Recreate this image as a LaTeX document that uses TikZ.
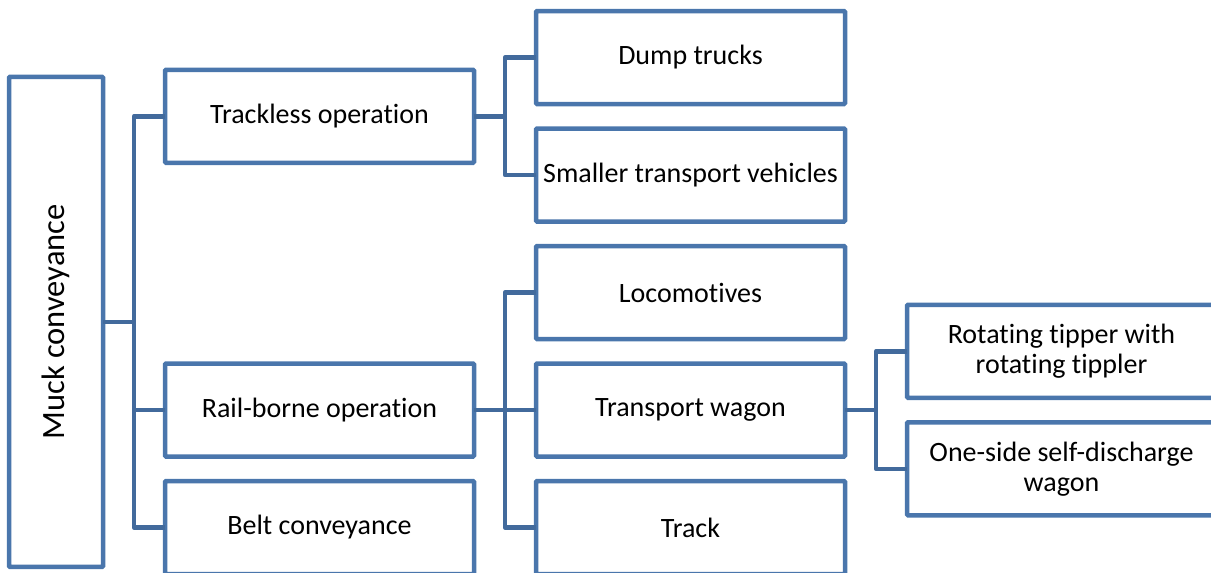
\documentclass[tikz,border=0pt]{standalone}
\usepackage{fontspec}
\setmainfont{Carlito}[RawFeature={-liga;-dlig}]
\usetikzlibrary{positioning, calc}
\definecolor{boxblue}{RGB}{74,118,172}
\definecolor{linkblue}{RGB}{66,106,156}

\begin{document}
\begin{tikzpicture}[
    node distance=24.5pt and 62pt,
    box/.style={rectangle, draw=boxblue, line width=4.5pt, fill=white, outer sep=0pt, align=center, font=\fontsize{28}{30}\selectfont, minimum width=309pt, minimum height=93pt, inner sep=2pt, rounded corners=1pt},
    link/.style={draw=linkblue, line width=4.5pt, line join=round}
]
\useasboundingbox (0,0) rectangle (1211pt,-573pt);
\clip (0,0) rectangle (1211pt,-573pt);

% second column, top to bottom
\node[box] (dump) at (690.5pt,-57.5pt) {Dump trucks};
\node[box, below=of dump] (smaller) {Smaller transport vehicles};
\node[box, below=of smaller] (loco) {Locomotives};
\node[box, below=of loco] (wagon) {Transport wagon};
\node[box, below=of wagon] (track) {Track};

% first column
\node[box, left=of {$(dump.west)!0.5!(smaller.west)$}] (trackless) {Trackless operation};
\node[box, left=of wagon] (rail) {Rail-borne operation};
\node[box, left=of track] (belt) {Belt conveyance};

% root
\node[box, minimum width=94pt, minimum height=490pt, font=\fontsize{32.5}{36}\selectfont,
      left=of {$(trackless.west)!0.5!(belt.west)$}] (muck) {\rotatebox{90}{Muck conveyance}};

% wagon types
\node[box, above right=12.25pt and 62pt of wagon.east] (tipper) {Rotating tipper with\\rotating tippler};
\node[box, below right=12.25pt and 62pt of wagon.east] (oneside) {One-side self-discharge\\wagon};

% bus points
\coordinate (b0) at ($(muck.east)+(31pt,0)$);
\coordinate (b1) at ($(trackless.east)+(31pt,0)$);
\coordinate (b2) at ($(rail.east)+(31pt,0)$);
\coordinate (b3) at ($(wagon.east)+(31pt,0)$);

\draw[link] (muck) -- (b0) |- (trackless);
\draw[link] (b0) |- (rail);
\draw[link] (b0) |- (belt);
\draw[link] (trackless) -- (b1) |- (dump);
\draw[link] (b1) |- (smaller);
\draw[link] (rail) -- (b2) |- (loco);
\draw[link] (b2) |- (wagon);
\draw[link] (b2) |- (track);
\draw[link] (wagon) -- (b3) |- (tipper);
\draw[link] (b3) |- (oneside);
\end{tikzpicture}
\end{document}
